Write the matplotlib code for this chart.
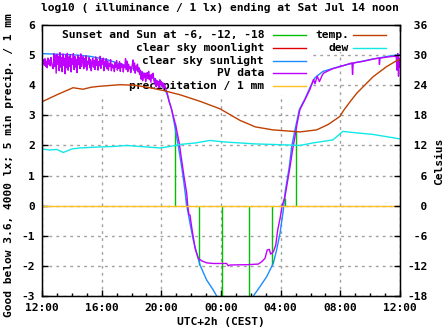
import numpy as np
import matplotlib
matplotlib.use("Agg")
import matplotlib.pyplot as plt
from matplotlib.patches import Rectangle

# ---------------- data (hours after 12:00) ----------------
sun_hours = [8.94, 9.63, 10.55, 12.09, 13.90, 15.44, 16.31, 17.05]
sun_vals = [2.75, 0.25, -1.97, -3.5, -3.5, -1.97, 0.25, 2.5]

clear_sun_hours = [0, 2.1, 3.22, 4.34, 5.43, 6.57, 7.24, 7.91, 8.36, 8.69, 8.92, 9.14,
                   9.36, 9.52, 9.65, 9.7, 9.92, 10.14, 10.37, 10.59, 11.04, 11.48, 11.71,
                   11.85, 12.9, 14.05, 14.17, 14.61, 15.06, 15.51, 15.73, 15.96, 16.18,
                   16.3, 16.58, 16.74, 16.96, 17.25, 17.63, 17.96, 18.3, 18.84, 20.0,
                   21.1, 22.2, 23.3, 24.0]
clear_sun_vals = [5.05, 5.01, 4.96, 4.85, 4.68, 4.46, 4.30, 4.08, 3.74, 3.19, 2.60, 1.97,
                  1.30, 0.74, 0.22, 0.02, -0.58, -1.14, -1.58, -1.97, -2.47, -2.80, -3.0,
                  -3.15, np.nan, -3.15, -3.0, -2.69, -2.36, -1.91, -1.47, -0.91, -0.14,
                  0.45, 1.30, 1.97, 2.52, 3.19, 3.55, 3.92, 4.25, 4.46, 4.63,
                  4.76, 4.87, 4.97, 5.02]

pv_early_vals = [4.78, 4.70, 4.85, 4.66, 4.88, 4.62, 4.80, 4.58, 4.90, 4.70, 4.84, 4.64,
                 4.92, 4.72, 4.60,
                 4.55, 5.05, 4.62, 4.98, 4.40, 5.02, 4.70, 4.96, 4.48, 5.08, 4.60, 4.92,
                 4.45, 5.04, 4.66, 4.90, 4.38, 5.00, 4.58, 5.06, 4.50, 4.94, 4.62, 5.02,
                 4.44, 4.88, 4.70, 5.05, 4.52, 4.96, 4.60, 4.86, 4.42, 5.00, 4.68, 4.92,
                 4.55, 5.04, 4.62, 4.85,
                 4.95, 4.55, 4.88, 4.62, 4.98, 4.50, 4.80, 4.70, 4.92, 4.58, 4.85, 4.48,
                 4.75, 4.90, 4.60, 4.82, 4.52, 4.94, 4.66, 4.86, 4.50, 4.78, 4.64, 4.96,
                 4.56, 4.84, 4.70, 4.90, 4.48, 4.80, 4.62, 4.88,
                 4.55, 4.80, 4.50, 4.72, 4.62, 4.85, 4.48, 4.70, 4.58, 4.66, 4.45, 4.75,
                 4.60, 4.82, 4.50, 4.68, 4.56, 4.78, 4.46, 4.72, 4.60, 4.70, 4.44, 4.66,
                 4.60, 4.88, 4.52, 4.80, 4.45, 4.70, 4.55, 4.62, 4.42, 4.58, 4.66, 4.84,
                 4.50, 4.74, 4.40, 4.64, 4.52, 4.70, 4.44, 4.58,
                 4.35, 4.50, 4.20, 4.45, 4.15, 4.38, 4.25, 4.40, 4.12, 4.30, 4.42, 4.22,
                 4.46, 4.18, 4.34, 4.10, 4.36, 4.24, 4.40, 4.16,
                 4.05, 4.22, 3.95, 4.15, 4.00, 4.10, 3.92, 4.18, 4.02, 4.12, 3.96, 4.08,
                 3.90, 4.04, 3.95, 3.88, 3.80, 3.72, 3.62, 3.50]
pv_early_step = 0.05

pv_late_hours = [8.69, 8.98, 9.2, 9.36, 9.52, 9.7, 9.77, 9.85, 9.92, 10.03, 10.14, 10.26,
                 10.37, 10.48, 10.7, 11.04, 11.48, 12.38, 12.49, 12.6, 13.72, 14.5,
                 14.73, 14.95, 15.1, 15.24, 15.33, 15.51, 15.67, 15.8, 15.96, 16.11,
                 16.29, 16.44, 16.63, 16.8, 16.96, 17.11, 17.29, 17.63, 17.96, 18.2,
                 18.3, 18.45, 18.6, 18.8, 18.9, 19.5, 19.8, 20.4, 20.78, 20.82, 20.86,
                 21.5, 22.3, 22.6, 22.62, 22.66, 23.2, 23.6, 23.75, 23.8, 23.85, 23.9,
                 23.95, 24.0]
pv_late_vals = [3.19, 2.63, 2.08, 1.52, 0.97, 0.41, 0.0, -0.3, -0.31, -0.70, -1.03, -1.41,
                -1.58, -1.75, -1.83, -1.90, -1.92, -1.92, -2.0, -1.97, -1.96, -1.94,
                -1.86, -1.75, -1.47, -1.45, -1.61, -1.53, -1.31, -0.81, -0.42, 0.02,
                0.30, 0.74, 1.30, 1.86, 2.30, 2.75, 3.19, 3.52, 3.86, 4.19,
                4.05, 4.30, 4.12, 4.35, 4.41, 4.55, 4.59, 4.68, 4.74, 4.36, 4.74,
                4.79, 4.88, 4.90, 4.69, 4.90, 4.94, 4.96, 4.95, 4.50, 5.05, 4.30,
                4.90, 4.60]

precip_hours = [0, 24]
precip_vals = [0, 0]

temp_hours = [0, 1, 2.08, 2.75, 3.3, 3.89, 5.23, 6.2, 7.24, 8.2, 9.25, 10.59, 11.93,
              13.27, 14.3, 15.48, 17.3, 18.41, 19.2, 19.98, 20.2, 20.65, 21.1, 22.2,
              23.1, 23.78, 24.0]
temp_c = [20.7, 22.1, 23.5, 23.2, 23.6, 23.8, 24.1, 24.0, 23.5, 22.9, 22.1, 20.8, 19.3,
          17.0, 15.7, 15.1, 14.7, 15.1, 16.2, 17.8, 18.9, 20.7, 22.4, 25.7,
          27.7, 28.9, 29.1]

dew_hours = [0, 0.5, 1.0, 1.43, 2.0, 2.55, 3.2, 3.89, 4.8, 5.68, 7.0, 7.91, 8.6, 9.25,
             10.3, 11.26, 12.2, 13.27, 14.3, 15.48, 16.4, 17.3, 18.16, 19.5, 20.17,
             21.1, 22.18, 23.0, 24.0]
dew_c = [11.3, 11.1, 11.2, 10.6, 11.3, 11.5, 11.6, 11.7, 11.8, 12.0, 11.7, 11.5, 11.8, 12.2,
         12.5, 13.0, 12.7, 12.5, 12.3, 12.2, 12.1, 12.0, 12.5, 13.1, 14.8,
         14.5, 14.2, 13.8, 13.3]

x_tick_labels = ["12:00", "16:00", "20:00", "00:00", "04:00", "08:00", "12:00"]
x_tick_pos = [0, 4, 8, 12, 16, 20, 24]
y_ticks = [-3, -2, -1, 0, 1, 2, 3, 4, 5, 6]
y2_ticks = [-18, -12, -6, 0, 6, 12, 18, 24, 30, 36]

legend_left = ["Sunset and Sun at -6, -12, -18", "clear sky moonlight",
               "clear sky sunlight", "PV data", "precipitation / 1 mm"]
legend_right = ["temp.", "dew"]

# ---------------- styling ----------------
C_GREEN = "#00c000"
C_RED = "#e00000"
C_BLUE = "#1a8cff"
C_PURPLE = "#c000ff"
C_ORANGE = "#ffc020"
C_BROWN = "#c04000"
C_CYAN = "#10e8e8"

FS = 8.1
plt.rcParams["font.family"] = "DejaVu Sans Mono"
plt.rcParams["font.weight"] = "bold"
plt.rcParams["font.size"] = FS

fig = plt.figure(figsize=(4.47, 3.35), dpi=100)
W, H = 447, 335
L, R, T, B = 42, 400, 25, 296
ax = fig.add_axes([L / W, 1 - B / H, (R - L) / W, (B - T) / H])


def fx(px):
    return (px - L) / (R - L)


def fy(py):
    return (B - py) / (B - T)


lw = 1.0
# white key area hiding the grid (gnuplot key)
ax.add_patch(Rectangle((fx(L + 1), fy(95)), fx(311) - fx(L + 1), fy(T + 1) - fy(95),
                       transform=ax.transAxes, facecolor="white", edgecolor="none",
                       zorder=1.5))
ax.add_patch(Rectangle((fx(311), fy(52)), fx(392) - fx(311), fy(T + 1) - fy(52),
                       transform=ax.transAxes, facecolor="white", edgecolor="none",
                       zorder=1.5))

ax.vlines(sun_hours, 0, sun_vals, colors=C_GREEN, lw=lw, zorder=3)
ax.plot(clear_sun_hours, clear_sun_vals, color=C_BLUE, lw=lw, zorder=4)
pv_early_hours = np.arange(len(pv_early_vals)) * pv_early_step
pv_h = list(pv_early_hours) + pv_late_hours
pv_v = list(pv_early_vals) + pv_late_vals
ax.plot(pv_h, pv_v, color=C_PURPLE, lw=lw, zorder=5)
ax.plot(precip_hours, precip_vals, color=C_ORANGE, lw=lw, zorder=6)
ax.plot(temp_hours, np.array(temp_c) / 6.0, color=C_BROWN, lw=lw, zorder=6)
ax.plot(dew_hours, np.array(dew_c) / 6.0, color=C_CYAN, lw=lw, zorder=6)

ax.set_xlim(0, 24)
ax.set_ylim(-3, 6)
ax.set_xticks(x_tick_pos)
ax.set_xticklabels(x_tick_labels)
ax.set_xticks(np.arange(0, 25, 1), minor=True)
ax.set_yticks(y_ticks)
ax.set_yticklabels([str(v) for v in y_ticks])
ax.tick_params(axis="both", which="major", direction="in", length=4, width=1,
               top=True, right=True, labelsize=FS)
ax.tick_params(axis="x", which="minor", direction="in", length=2.5, width=1,
               top=True, bottom=True)
ax.tick_params(axis="x", which="major", pad=5)
ax.tick_params(axis="y", which="major", pad=5)
ax.set_axisbelow(True)
ax.grid(True, which="major", color="#a0a0a0", linestyle=(0, (2, 3)), lw=1)
for s in ax.spines.values():
    s.set_linewidth(1)
    s.set_color("black")
    s.set_zorder(10)

ax2 = ax.twinx()
ax2.set_ylim(-18, 36)
ax2.set_yticks(y2_ticks)
ax2.set_yticklabels([("%3d" % v) for v in y2_ticks])
ax2.tick_params(axis="y", direction="in", length=4, width=1, pad=5, labelsize=FS)
for lab in ax2.get_yticklabels():
    lab.set_ha("left")

# legend (gnuplot-style key: text right-aligned, sample line to the right)
left_colors = [C_GREEN, C_RED, C_BLUE, C_PURPLE, C_ORANGE]
right_colors = [C_BROWN, C_CYAN]
rows = [35, 47.8, 60.6, 73.4, 86.4]
for i, (lab, c) in enumerate(zip(legend_left, left_colors)):
    ax.text(fx(264), fy(rows[i]), lab, transform=ax.transAxes, ha="right", va="center",
            fontsize=FS, fontweight="bold", zorder=4.5)
    ax.plot([fx(273), fx(306)], [fy(rows[i])] * 2, transform=ax.transAxes, color=c,
            lw=lw, zorder=7, clip_on=False)
for i, (lab, c) in enumerate(zip(legend_right, right_colors)):
    ax.text(fx(349), fy(rows[i]), lab, transform=ax.transAxes, ha="right", va="center",
            fontsize=FS, fontweight="bold", zorder=4.5)
    ax.plot([fx(353), fx(386)], [fy(rows[i])] * 2, transform=ax.transAxes, color=c,
            lw=lw, zorder=7, clip_on=False)

fig.text(220 / W, 1 - 8 / H, "log10 ( illuminance / 1 lx) ending at Sat Jul 14 noon",
         ha="center", va="center", fontsize=FS, fontweight="bold")
fig.text(221 / W, 1 - 322 / H, "UTC+2h (CEST)", ha="center", va="center",
         fontsize=FS, fontweight="bold")
fig.text(9 / W, 1 - 165 / H, "Good below 3.6, 4000 lx; 5 min precip. / 1 mm",
         rotation=90, ha="center", va="center", fontsize=FS, fontweight="bold")
fig.text(439 / W, 1 - 161 / H, "Celsius", rotation=90, ha="center", va="center",
         fontsize=FS, fontweight="bold")

fig.savefig("out.png", dpi=100, facecolor="white")
